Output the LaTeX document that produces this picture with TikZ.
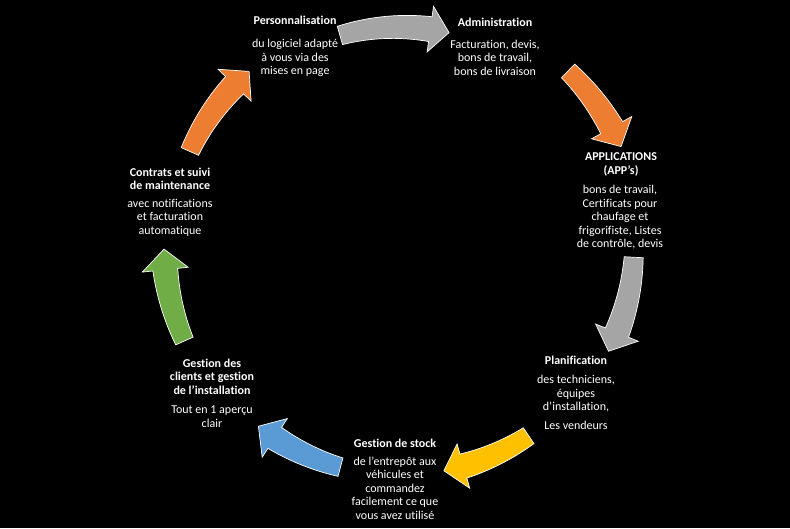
\documentclass[tikz,border=0pt]{standalone}
\usepackage{fontspec}
\setmainfont{Carlito}[Ligatures=CommonOff]
\definecolor{arrgray}{RGB}{165,165,165}
\definecolor{arrorange}{RGB}{237,125,49}
\definecolor{arryellow}{RGB}{255,192,0}
\definecolor{arrblue}{RGB}{91,155,213}
\definecolor{arrgreen}{RGB}{112,173,71}
% #1 colour, #2 tail angle, #3 tip angle, #4 radius
\newcommand\cycarrow[4]{%
  \pgfmathsetmacro\ea{#3+5}%
  \filldraw[arrowsty, fill=#1]
    plot[domain=0:1, samples=16] ({#2+(\ea-(#2))*\x}:{#4+0.5*(19+6*\x)})
    -- (\ea:{#4+23}) -- (#3:#4) -- (\ea:{#4-23})
    -- plot[domain=0:1, samples=16] ({\ea+((#2)-\ea)*\x}:{#4-0.5*(25-6*\x)})
    -- cycle;
}
\begin{document}
\begin{tikzpicture}[x=1pt,y=1pt,
  txt/.style={text=white, align=center, font=\fontsize{12}{13.5}\selectfont, inner sep=0pt},
  ttl/.style={txt, font=\fontsize{12}{13.5}\selectfont\bfseries},
  arrowsty/.style={draw=white, line width=0.7pt, line join=miter}]
\fill[black] (0,0) rectangle (790,528);
\useasboundingbox (0,0) rectangle (790,528);

\begin{scope}[shift={(400,283)}]
  \cycarrow{arrgray}{106}{77}{218}
  \cycarrow{arrorange}{46}{24}{242}
  \cycarrow{arrgray}{-3}{-27}{234}
  \cycarrow{arryellow}{-56}{-79}{230}
  \cycarrow{arrblue}{-105}{-128}{230}
  \cycarrow{arrgreen}{-156}{-179}{236}
  \cycarrow{arrorange}{156}{131}{230}
\end{scope}

\node[ttl] (t1) at (295,508) {Personnalisation};
\node[txt] (d1) at (295,470) {du logiciel adapté\\à vous via des\\mises en page};
\node[ttl] (t2) at (495,506) {Administration};
\node[txt] (d2) at (495,470.5) {Facturation, devis,\\bons de travail,\\bons de livraison};
\node[ttl] (t3) at (621,363.5) {APPLICATIONS\\(APP’s)};
\node[txt] (d3) at (620,310.5) {bons de travail,\\Certificats pour\\chaufage et\\frigorifiste, Listes\\de contrôle, devis};
\node[ttl] (t4) at (170,349) {Contrats et suivi\\de maintenance};
\node[txt] (d4) at (170,310.5) {avec notifications\\et facturation\\automatique};
\node[ttl] (t5) at (212,151.5) {Gestion des\\clients et gestion\\de l’installation};
\node[txt] (d5) at (212,111.5) {Tout en 1 aperçu\\clair};
\node[ttl] (t6) at (395,85) {Gestion de stock};
\node[txt] (d6) at (395,40) {de l’entrepôt aux\\véhicules et\\commandez\\facilement ce que\\vous avez utilisé};
\node[ttl] (t7) at (576,168) {Planification};
\node[txt] (d7) at (576,134) {des techniciens,\\équipes\\d’installation,};
\node[txt] (d7b) at (576,103) {Les vendeurs};
\end{tikzpicture}
\end{document}
